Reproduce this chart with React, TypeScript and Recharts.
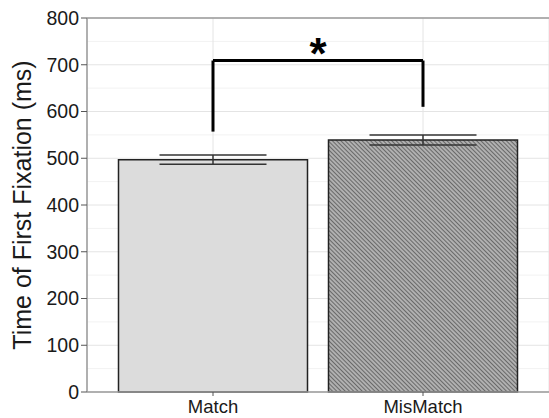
import React from "react";
import { BarChart, Bar, XAxis, YAxis, CartesianGrid, ErrorBar, ReferenceLine, Cell } from "recharts";

const categories = ["Match", "MisMatch"];
const means = [497, 539];
const errors = [10, 10.5];
const yTicks = [0, 100, 200, 300, 400, 500, 600, 700, 800];
const minorTicks = [50, 150, 250, 350, 450, 550, 650, 750];
const bracketTop = 709;
const bracketLeftBottom = 557;
const bracketRightBottom = 610;

const data = categories.map((c, i) => ({ name: c, value: means[i], err: errors[i] }));

const fills = ["#dcdcdc", "url(#hatch)"];
const font = "Liberation Sans, Arial, sans-serif";

export default function App() {
  return (
    <div style={{ position: "absolute", left: 0, top: 0, background: "#fff" }}>
      <BarChart
        width={549}
        height={418}
        data={data}
        margin={{ top: 18, right: 0, left: 0, bottom: 0 }}
        barCategoryGap="5%"
      >
        <defs>
          <pattern id="hatch" patternUnits="userSpaceOnUse" width="3" height="3" patternTransform="rotate(-45)">
            <rect width="3" height="3" fill="#b0b0b0" />
            <line x1="0" y1="0" x2="0" y2="3" stroke="#4a4a4a" strokeWidth="1.4" />
          </pattern>
        </defs>
        <CartesianGrid stroke="#f2f2f2" vertical={false} horizontalValues={minorTicks} />
        <CartesianGrid stroke="#e4e4e4" vertical={true} />
        <ReferenceLine y={800} stroke="#9a9a9a" strokeWidth={1.5} />
        <XAxis
          dataKey="name"
          padding={{ left: 21, right: 21 }}
          height={26}
          tickSize={4}
          tick={{ fill: "#1a1a1a", fontSize: 18.5, fontFamily: font, dy: 2 }}
          axisLine={{ stroke: "#9a9a9a", strokeWidth: 1.5 }}
          tickLine={{ stroke: "#555" }}
        />
        <YAxis
          domain={[0, 800]}
          ticks={yTicks}
          width={87}
          tickSize={6}
          interval={0}
          tick={{ fill: "#1a1a1a", fontSize: 19.5, fontFamily: font }}
          axisLine={{ stroke: "#9a9a9a", strokeWidth: 1.5 }}
          tickLine={{ stroke: "#555" }}
          label={{
            value: "Time of First Fixation (ms)",
            angle: -90,
            position: "insideLeft",
            dx: 17,
            dy: 0,
            style: { textAnchor: "middle", fontSize: 25, fill: "#1a1a1a", fontFamily: font },
          }}
        />
        <Bar dataKey="value" isAnimationActive={false} stroke="#222" strokeWidth={1.5}>
          {data.map((d, i) => (
            <Cell key={d.name} fill={fills[i]} />
          ))}
          <ErrorBar dataKey="err" width={53.5} stroke="#333" strokeWidth={1.5} direction="y" />
        </Bar>
        <ReferenceLine
          segment={[{ x: "Match", y: bracketLeftBottom }, { x: "Match", y: bracketTop }]}
          stroke="#000"
          strokeWidth={3}
        />
        <ReferenceLine
          segment={[{ x: "MisMatch", y: bracketRightBottom }, { x: "MisMatch", y: bracketTop }]}
          stroke="#000"
          strokeWidth={3}
        />
        <ReferenceLine
          segment={[{ x: "Match", y: bracketTop }, { x: "MisMatch", y: bracketTop }]}
          stroke="#000"
          strokeWidth={3}
          label={{ value: "*", position: "top", offset: -8, fontSize: 44, fontWeight: "bold", fill: "#000", fontFamily: font }}
        />
      </BarChart>
    </div>
  );
}
